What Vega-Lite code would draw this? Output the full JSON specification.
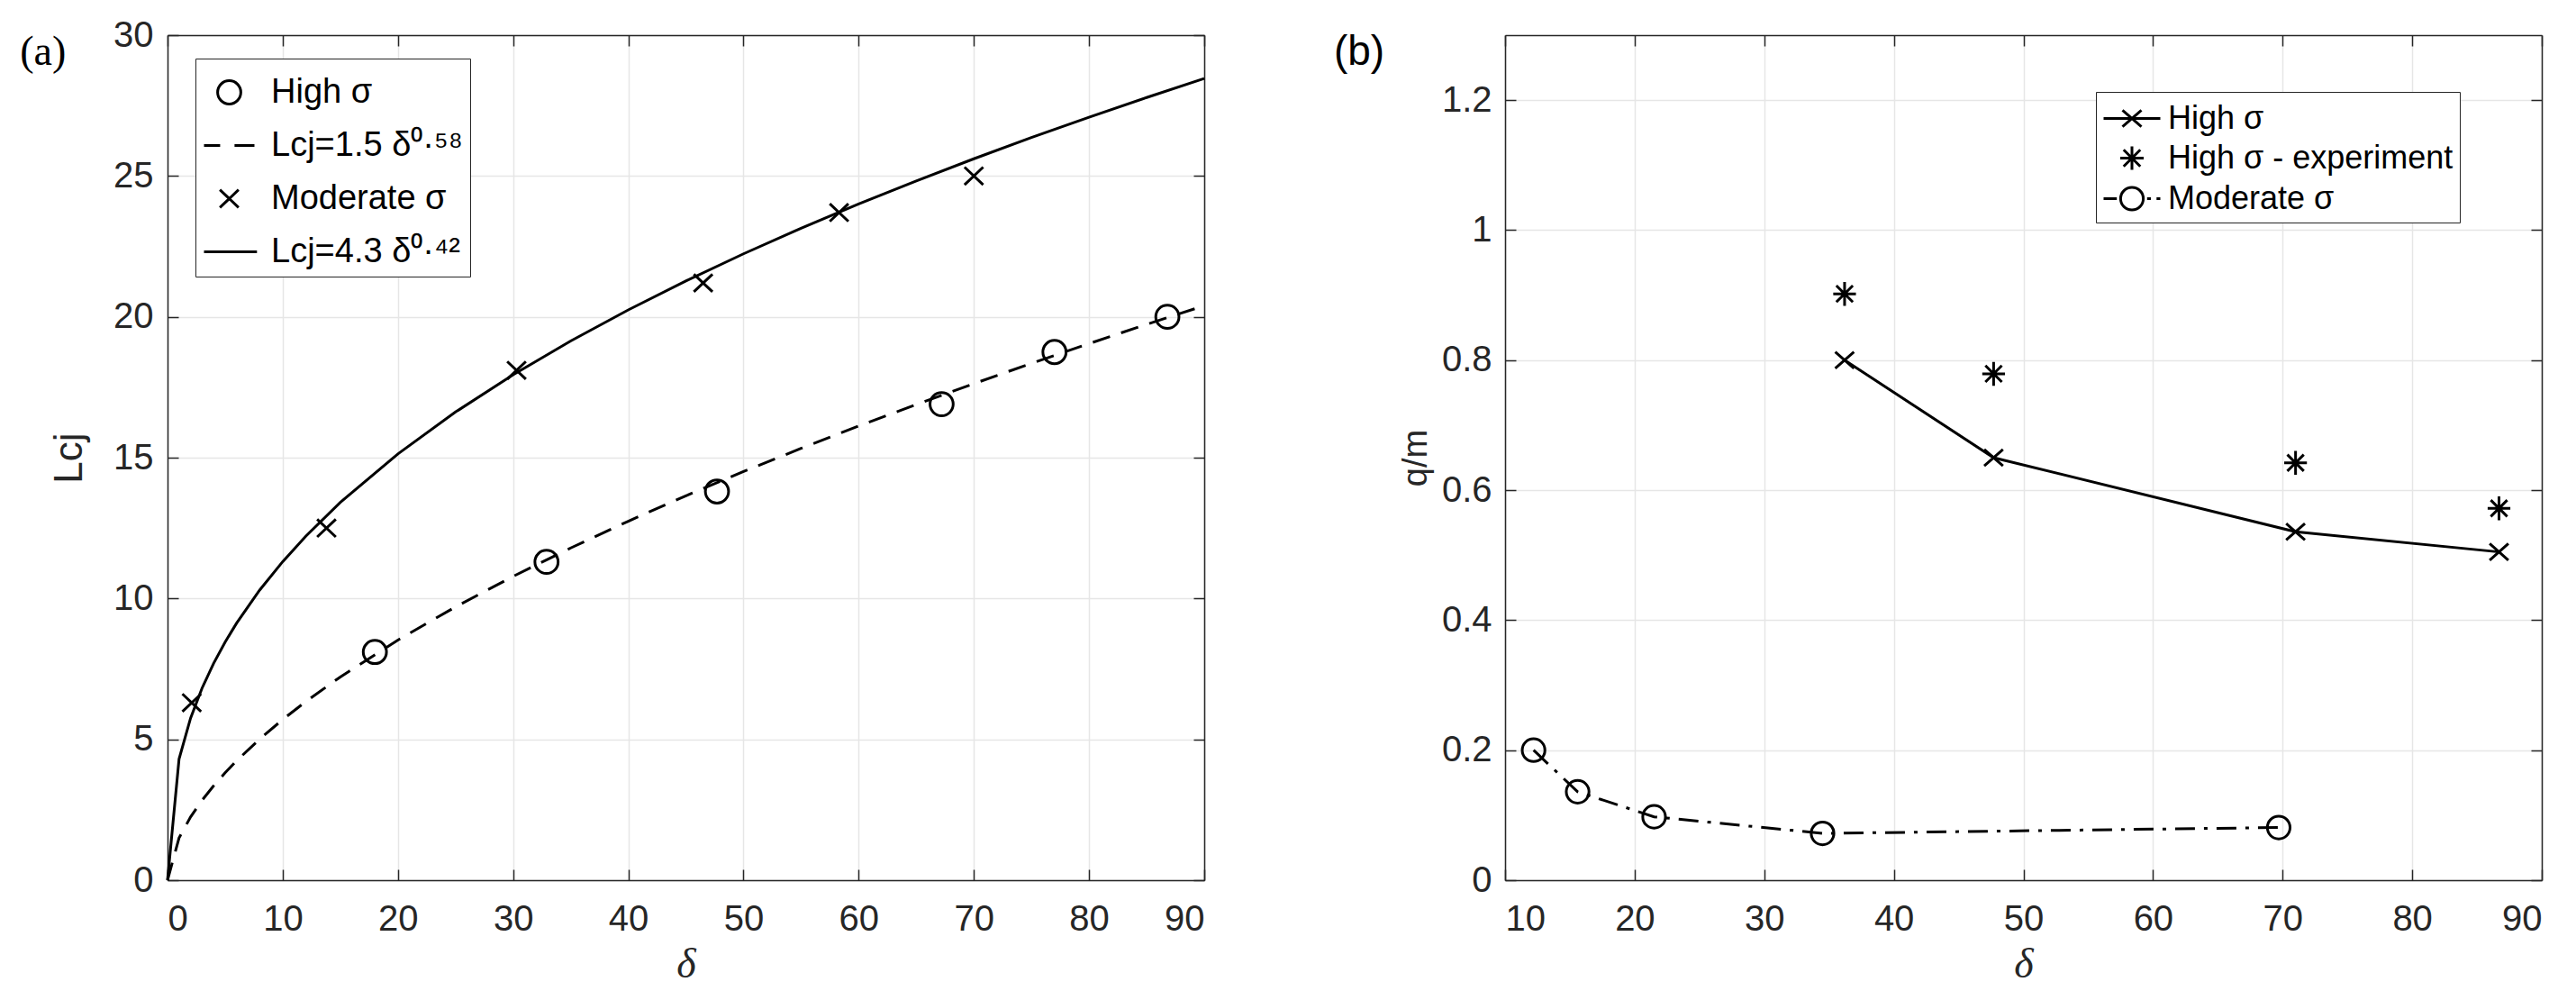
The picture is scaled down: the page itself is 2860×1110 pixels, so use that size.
{
  "$schema": "https://vega.github.io/schema/vega-lite/v6.json",
  "background": "white",
  "padding": {"left": 22, "top": 19, "right": 5, "bottom": 3},
  "config": {
    "view": {"stroke": null},
    "axis": {
      "labelFont": "Liberation Sans", "labelFontSize": 40, "labelColor": "#262626",
      "titleFont": "Liberation Sans", "titleColor": "#262626", "titleFontWeight": "normal",
      "domainColor": "#262626", "domainWidth": 1.5,
      "tickColor": "#262626", "tickWidth": 1.5,
      "gridColor": "#e6e6e6", "gridWidth": 1.5
    }
  },
  "datasets": {
    "lcj_points": [
      {"series": "High σ", "delta": 18.0, "L": 8.1},
      {"series": "High σ", "delta": 32.9, "L": 11.3},
      {"series": "High σ", "delta": 47.7, "L": 13.8},
      {"series": "High σ", "delta": 67.2, "L": 16.9},
      {"series": "High σ", "delta": 77.0, "L": 18.75},
      {"series": "High σ", "delta": 86.8, "L": 20.0},
      {"series": "Moderate σ", "delta": 2.1, "L": 6.3},
      {"series": "Moderate σ", "delta": 13.8, "L": 12.5},
      {"series": "Moderate σ", "delta": 30.3, "L": 18.1},
      {"series": "Moderate σ", "delta": 46.5, "L": 21.2},
      {"series": "Moderate σ", "delta": 58.3, "L": 23.7},
      {"series": "Moderate σ", "delta": 70.0, "L": 25.0}
    ],
    "lcj_fits": [
      {"fit": "dashed", "delta": 0, "L": 0},
      {"fit": "dashed", "delta": 1, "L": 1.5},
      {"fit": "dashed", "delta": 2, "L": 2.242},
      {"fit": "dashed", "delta": 3, "L": 2.837},
      {"fit": "dashed", "delta": 4, "L": 3.352},
      {"fit": "dashed", "delta": 5, "L": 3.815},
      {"fit": "dashed", "delta": 6, "L": 4.24},
      {"fit": "dashed", "delta": 8, "L": 5.01},
      {"fit": "dashed", "delta": 10, "L": 5.703},
      {"fit": "dashed", "delta": 12, "L": 6.339},
      {"fit": "dashed", "delta": 15, "L": 7.215},
      {"fit": "dashed", "delta": 20, "L": 8.525},
      {"fit": "dashed", "delta": 25, "L": 9.703},
      {"fit": "dashed", "delta": 30, "L": 10.785},
      {"fit": "dashed", "delta": 35, "L": 11.794},
      {"fit": "dashed", "delta": 40, "L": 12.743},
      {"fit": "dashed", "delta": 45, "L": 13.646},
      {"fit": "dashed", "delta": 50, "L": 14.505},
      {"fit": "dashed", "delta": 55, "L": 15.329},
      {"fit": "dashed", "delta": 60, "L": 16.122},
      {"fit": "dashed", "delta": 65, "L": 16.888},
      {"fit": "dashed", "delta": 70, "L": 17.628},
      {"fit": "dashed", "delta": 75, "L": 18.349},
      {"fit": "dashed", "delta": 80, "L": 19.048},
      {"fit": "dashed", "delta": 85, "L": 19.733},
      {"fit": "dashed", "delta": 90, "L": 20.397},
      {"fit": "solid", "delta": 0, "L": 0},
      {"fit": "solid", "delta": 1, "L": 4.3},
      {"fit": "solid", "delta": 2, "L": 5.753},
      {"fit": "solid", "delta": 3, "L": 6.821},
      {"fit": "solid", "delta": 4, "L": 7.697},
      {"fit": "solid", "delta": 5, "L": 8.454},
      {"fit": "solid", "delta": 6, "L": 9.126},
      {"fit": "solid", "delta": 8, "L": 10.298},
      {"fit": "solid", "delta": 10, "L": 11.31},
      {"fit": "solid", "delta": 12, "L": 12.209},
      {"fit": "solid", "delta": 15, "L": 13.41},
      {"fit": "solid", "delta": 20, "L": 15.132},
      {"fit": "solid", "delta": 25, "L": 16.62},
      {"fit": "solid", "delta": 30, "L": 17.941},
      {"fit": "solid", "delta": 35, "L": 19.141},
      {"fit": "solid", "delta": 40, "L": 20.245},
      {"fit": "solid", "delta": 45, "L": 21.271},
      {"fit": "solid", "delta": 50, "L": 22.236},
      {"fit": "solid", "delta": 55, "L": 23.145},
      {"fit": "solid", "delta": 60, "L": 24.004},
      {"fit": "solid", "delta": 65, "L": 24.824},
      {"fit": "solid", "delta": 70, "L": 25.611},
      {"fit": "solid", "delta": 75, "L": 26.363},
      {"fit": "solid", "delta": 80, "L": 27.086},
      {"fit": "solid", "delta": 85, "L": 27.786},
      {"fit": "solid", "delta": 90, "L": 28.46}
    ],
    "qm": [
      {"series": "High σ", "delta": 36.2, "qm": 0.8},
      {"series": "High σ", "delta": 47.7, "qm": 0.65},
      {"series": "High σ", "delta": 71.0, "qm": 0.536},
      {"series": "High σ", "delta": 86.7, "qm": 0.505},
      {"series": "High σ - experiment", "delta": 36.2, "qm": 0.902},
      {"series": "High σ - experiment", "delta": 47.7, "qm": 0.779},
      {"series": "High σ - experiment", "delta": 71.0, "qm": 0.642},
      {"series": "High σ - experiment", "delta": 86.7, "qm": 0.572},
      {"series": "Moderate σ", "delta": 12.2, "qm": 0.2},
      {"series": "Moderate σ", "delta": 15.6, "qm": 0.136},
      {"series": "Moderate σ", "delta": 21.5, "qm": 0.0975},
      {"series": "Moderate σ", "delta": 34.5, "qm": 0.072},
      {"series": "Moderate σ", "delta": 69.7, "qm": 0.081}
    ],
    "panel_labels": [
      {"panel": "a", "text": "(a)", "delta": -12.8, "y": 28.94},
      {"panel": "b", "text": "(b)", "delta": -3.21, "y": 1.254}
    ]
  },
  "bounds": "flush",
  "spacing": 334,
  "resolve": {"scale": {"shape": "independent"}, "legend": {"shape": "independent"}},
  "hconcat": [
    {
      "width": 1151,
      "height": 938,
      "resolve": {"axis": {"x": "independent", "y": "independent"}},
      "layer": [
        {
          "data": {"name": "lcj_points"},
          "mark": {"type": "point", "filled": false, "size": 3136, "strokeWidth": 3, "color": "black", "opacity": 1},
          "encoding": {
            "x": {"field": "delta", "type": "quantitative", "scale": {"domain": [0, 90], "nice": false, "zero": false},
                  "axis": {"orient": "bottom", "values": [0, 10, 20, 30, 40, 50, 60, 70, 80, 90], "ticks": false, "labelPadding": 23, "grid": true,
                           "title": "δ", "titleFont": "Liberation Serif", "titleFontStyle": "italic", "titleFontSize": 46, "titlePadding": 8}},
            "y": {"field": "L", "type": "quantitative", "scale": {"domain": [0, 30], "nice": false},
                  "axis": {"orient": "left", "values": [0, 5, 10, 15, 20, 25, 30], "ticks": false, "labelPadding": 16, "grid": true,
                           "title": "Lcj", "titleFontSize": 44, "titlePadding": 26}},
            "shape": {"field": "series", "type": "nominal",
                      "scale": {"domain": ["High σ", "Lcj=1.5 δ⁰·⁵⁸", "Moderate σ", "Lcj=4.3 δ⁰·⁴²"],
                                "range": ["M0.46,0A0.46,0.46,0,1,1,-0.46,0A0.46,0.46,0,1,1,0.46,0Z", "M-1,0H-0.36M0.21,0H1", "M-0.37,-0.35L0.37,0.35M-0.37,0.35L0.37,-0.35", "M-1,0H1.1"]},
                      "legend": {"orient": "none", "legendX": 31, "legendY": 26, "title": null, "symbolSize": 3136, "symbolStrokeWidth": 3,
                                 "symbolStrokeColor": "black", "symbolFillColor": "transparent", "labelFont": "Liberation Sans", "labelFontSize": 38,
                                 "labelColor": "black", "labelOffset": 17, "labelLimit": 1000, "padding": 8, "rowPadding": 10,
                                 "strokeColor": "#262626", "fillColor": "white"}}
          }
        },
        {
          "data": {"name": "lcj_fits"},
          "transform": [{"filter": "datum.fit === 'dashed'"}],
          "mark": {"type": "line", "color": "black", "strokeWidth": 3, "strokeDash": [20, 13]},
          "encoding": {
            "x": {"field": "delta", "type": "quantitative",
                  "axis": {"orient": "top", "values": [0, 10, 20, 30, 40, 50, 60, 70, 80, 90], "labels": false, "tickSize": -12, "grid": false, "title": null}},
            "y": {"field": "L", "type": "quantitative",
                  "axis": {"orient": "right", "values": [0, 5, 10, 15, 20, 25, 30], "labels": false, "tickSize": -12, "grid": false, "title": null}}
          }
        },
        {
          "data": {"name": "lcj_fits"},
          "transform": [{"filter": "datum.fit === 'solid'"}],
          "mark": {"type": "line", "color": "black", "strokeWidth": 3},
          "encoding": {
            "x": {"field": "delta", "type": "quantitative",
                  "axis": {"orient": "bottom", "values": [0, 10, 20, 30, 40, 50, 60, 70, 80, 90], "labels": false, "domain": false, "tickSize": -12, "grid": false, "title": null}},
            "y": {"field": "L", "type": "quantitative",
                  "axis": {"orient": "left", "values": [0, 5, 10, 15, 20, 25, 30], "labels": false, "domain": false, "tickSize": -12, "grid": false, "title": null}}
          }
        },
        {
          "data": {"name": "panel_labels"},
          "transform": [{"filter": "datum.panel === 'a'"}],
          "mark": {"type": "text", "font": "Liberation Serif", "fontSize": 46, "color": "black", "align": "left", "baseline": "alphabetic"},
          "encoding": {
            "x": {"field": "delta", "type": "quantitative", "axis": null},
            "y": {"field": "y", "type": "quantitative", "axis": null},
            "text": {"field": "text"}
          }
        }
      ]
    },
    {
      "width": 1151,
      "height": 938,
      "resolve": {"axis": {"x": "independent", "y": "independent"}},
      "layer": [
        {
          "data": {"name": "qm"},
          "mark": {"type": "point", "filled": false, "size": 1764, "strokeWidth": 3, "color": "black", "opacity": 0},
          "encoding": {
            "x": {"field": "delta", "type": "quantitative", "scale": {"domain": [10, 90], "nice": false, "zero": false},
                  "axis": {"orient": "bottom", "values": [10, 20, 30, 40, 50, 60, 70, 80, 90], "ticks": false, "labelPadding": 23, "grid": true,
                           "title": "δ", "titleFont": "Liberation Serif", "titleFontStyle": "italic", "titleFontSize": 46, "titlePadding": 8}},
            "y": {"field": "qm", "type": "quantitative", "scale": {"domain": [0, 1.3], "nice": false},
                  "axis": {"orient": "left", "values": [0, 0.2, 0.4, 0.6, 0.8, 1, 1.2], "format": "~g", "ticks": false, "labelPadding": 15, "grid": true,
                           "title": "q/m", "titleFontSize": 38, "titlePadding": 9}},
            "shape": {"field": "series", "type": "nominal",
                      "scale": {"domain": ["High σ", "High σ - experiment", "Moderate σ"],
                                "range": ["M-1,0H2M0,-0.43L1,0.43M0,0.43L1,-0.43", "M0.5,-0.62V0.62M-0.12,0H1.12M0.06,-0.44L0.94,0.44M0.06,0.44L0.94,-0.44", "M-1,0H-0.3M1.3,0H1.5M1.8,0H2M1.1,0A0.6,0.6,0,1,1,-0.1,0A0.6,0.6,0,1,1,1.1,0Z"]},
                      "legend": {"orient": "none", "legendX": 656, "legendY": 63, "title": null, "symbolSize": 1764, "symbolStrokeWidth": 3,
                                 "symbolOpacity": 1, "symbolStrokeColor": "black", "symbolFillColor": "transparent", "labelFont": "Liberation Sans", "labelFontSize": 36,
                                 "labelColor": "black", "labelOffset": 28, "labelLimit": 1000, "padding": 7, "rowPadding": 3,
                                 "strokeColor": "#262626", "fillColor": "white"}}
          }
        },
        {
          "data": {"name": "qm"},
          "transform": [{"filter": "datum.series === 'High σ'"}],
          "mark": {"type": "line", "color": "black", "strokeWidth": 3},
          "encoding": {
            "x": {"field": "delta", "type": "quantitative",
                  "axis": {"orient": "top", "values": [10, 20, 30, 40, 50, 60, 70, 80, 90], "labels": false, "tickSize": -12, "grid": false, "title": null}},
            "y": {"field": "qm", "type": "quantitative",
                  "axis": {"orient": "right", "values": [0, 0.2, 0.4, 0.6, 0.8, 1, 1.2], "labels": false, "tickSize": -12, "grid": false, "title": null}}
          }
        },
        {
          "data": {"name": "qm"},
          "transform": [{"filter": "datum.series === 'Moderate σ'"}],
          "mark": {"type": "line", "color": "black", "strokeWidth": 3, "strokeDash": [22, 10, 4, 10]},
          "encoding": {
            "x": {"field": "delta", "type": "quantitative",
                  "axis": {"orient": "bottom", "values": [10, 20, 30, 40, 50, 60, 70, 80, 90], "labels": false, "domain": false, "tickSize": -12, "grid": false, "title": null}},
            "y": {"field": "qm", "type": "quantitative",
                  "axis": {"orient": "left", "values": [0, 0.2, 0.4, 0.6, 0.8, 1, 1.2], "labels": false, "domain": false, "tickSize": -12, "grid": false, "title": null}}
          }
        },
        {
          "data": {"name": "qm"},
          "transform": [{"filter": "datum.series === 'High σ'"}],
          "mark": {"type": "point", "shape": "M-0.33,-0.29L0.33,0.29M-0.33,0.29L0.33,-0.29", "filled": false, "size": 3969, "strokeWidth": 3, "color": "black", "opacity": 1},
          "encoding": {
            "x": {"field": "delta", "type": "quantitative", "axis": null},
            "y": {"field": "qm", "type": "quantitative", "axis": null}
          }
        },
        {
          "data": {"name": "qm"},
          "transform": [{"filter": "datum.series === 'High σ - experiment'"}],
          "mark": {"type": "point", "shape": "M0,-0.42V0.42M-0.4,0H0.4M-0.29,-0.29L0.29,0.29M-0.29,0.29L0.29,-0.29", "filled": false, "size": 3969, "strokeWidth": 3, "color": "black", "opacity": 1},
          "encoding": {
            "x": {"field": "delta", "type": "quantitative", "axis": null},
            "y": {"field": "qm", "type": "quantitative", "axis": null}
          }
        },
        {
          "data": {"name": "qm"},
          "transform": [{"filter": "datum.series === 'Moderate σ'"}],
          "mark": {"type": "point", "shape": "M0.4,0A0.4,0.4,0,1,1,-0.4,0A0.4,0.4,0,1,1,0.4,0Z", "filled": false, "size": 3969, "strokeWidth": 3, "color": "black", "opacity": 1},
          "encoding": {
            "x": {"field": "delta", "type": "quantitative", "axis": null},
            "y": {"field": "qm", "type": "quantitative", "axis": null}
          }
        },
        {
          "data": {"name": "panel_labels"},
          "transform": [{"filter": "datum.panel === 'b'"}],
          "mark": {"type": "text", "font": "Liberation Sans", "fontSize": 46, "color": "black", "align": "left", "baseline": "alphabetic"},
          "encoding": {
            "x": {"field": "delta", "type": "quantitative", "axis": null},
            "y": {"field": "y", "type": "quantitative", "axis": null},
            "text": {"field": "text"}
          }
        }
      ]
    }
  ]
}
